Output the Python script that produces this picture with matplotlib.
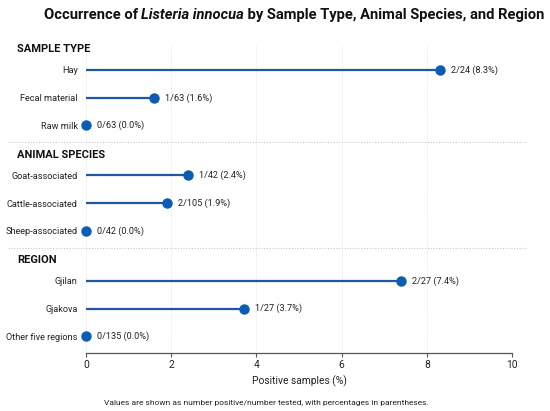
import matplotlib
matplotlib.use("Agg")
import matplotlib.pyplot as plt
import matplotlib.transforms as mtransforms

plt.rcParams["font.family"] = ["Roboto", "DejaVu Sans"]

# data
sections = ["SAMPLE TYPE", "ANIMAL SPECIES", "REGION"]
labels = [
    ["Hay", "Fecal material", "Raw milk"],
    ["Goat-associated", "Cattle-associated", "Sheep-associated"],
    ["Gjilan", "Gjakova", "Other five regions"],
]
positives = [[2, 1, 0], [1, 2, 0], [2, 1, 0]]
tested = [[24, 63, 63], [42, 105, 42], [27, 27, 135]]
pct = [[8.3, 1.6, 0.0], [2.4, 1.9, 0.0], [7.4, 3.7, 0.0]]

line_col = "#1f57a0"
dot_col = "#0b5cb3"

fig = plt.figure(figsize=(5.5, 4.11), dpi=100)
ax = fig.add_axes([86 / 550, 1 - 353 / 411, 426 / 550, 308 / 411])

hdr_tr = mtransforms.blended_transform_factory(fig.transFigure, ax.transData)
yticks, ylabels = [], []
start = 0.0
for k, sec in enumerate(sections):
    ax.text(17 / 550, start, sec, transform=hdr_tr, fontsize=8.0,
            fontweight="bold", va="center", ha="left", color="#111111")
    for i in range(3):
        y = start + 0.75 + i
        v = pct[k][i]
        ax.plot([0, v], [y, y], color=line_col, lw=1.6, solid_capstyle="butt", zorder=2)
        ax.plot([v], [y], "o", color=dot_col, ms=6.5, zorder=3, clip_on=False)
        ax.annotate(f"{positives[k][i]}/{tested[k][i]} ({v:.1f}%)", (v, y),
                    xytext=(8, 0), textcoords="offset points", va="center",
                    fontsize=6.6, color="#222222")
        yticks.append(y)
        ylabels.append(labels[k][i])
    if k < len(sections) - 1:
        sep = start + 3.35
        ax.plot([-0.183, 1.035], [sep, sep], transform=ax.get_yaxis_transform(),
                color="#c8c8c8", lw=0.8, ls=(0, (1, 1.5)), clip_on=False)
    start += 3.8

ax.set_xlim(0, 10)
ax.set_ylim(10.95, -0.15)
ax.set_xticks(range(0, 11, 2))
ax.set_yticks(yticks)
ax.set_yticklabels(ylabels)
ax.tick_params(axis="y", length=0, pad=6, labelsize=6.6, labelcolor="#222222")
ax.tick_params(axis="x", length=3, width=0.8, color="#555555", labelsize=7.4,
               labelcolor="#222222", pad=2)
ax.grid(axis="x", color="#dcdcdc", lw=0.6, ls=(0, (1, 1.5)))
ax.set_axisbelow(True)
for s in ["top", "right", "left"]:
    ax.spines[s].set_visible(False)
ax.spines["bottom"].set_color("#555555")
ax.spines["bottom"].set_linewidth(0.9)
ax.set_xlabel("Positive samples (%)", fontsize=7.4, color="#222222", labelpad=4)

fig.text(266 / 550, 1 - 403 / 411,
         "Values are shown as number positive/number tested, with percentages in parentheses.",
         ha="center", va="center", fontsize=6, color="#222222")

# title with italic species name, built piece by piece and centred
parts = [("Occurrence of ", "normal"), ("Listeria innocua", "italic"),
         (" by Sample Type, Animal Species, and Region", "normal")]
renderer = fig.canvas.get_renderer()
texts = []
for s, style in parts:
    t = fig.text(0, 1 - 15 / 411, s, fontsize=10.6, fontweight="bold", style=style,
                 va="center", ha="left", color="#111111")
    texts.append(t)
widths = [t.get_window_extent(renderer).width / fig.bbox.width for t in texts]
x0 = 294 / 550 - sum(widths) / 2
for t, w in zip(texts, widths):
    t.set_x(x0)
    x0 += w

fig.savefig("out.png", dpi=100)
